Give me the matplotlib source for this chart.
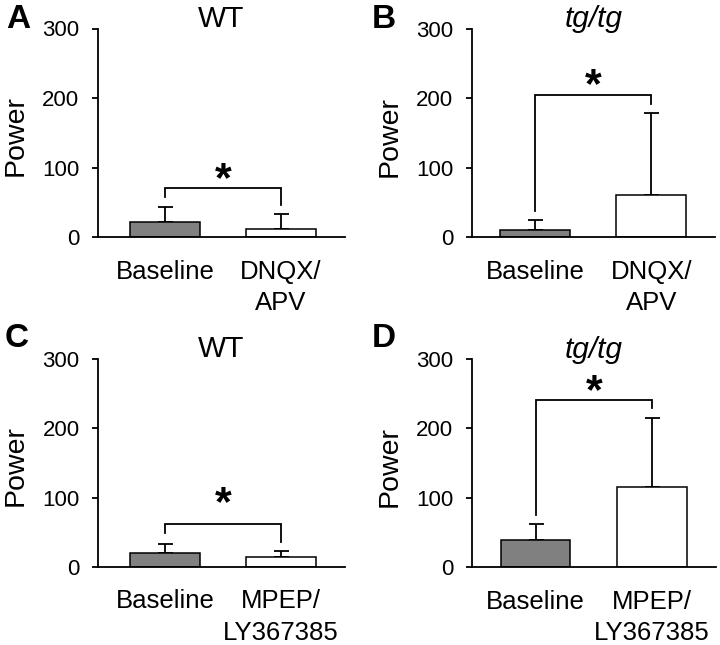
import matplotlib
matplotlib.use("Agg")
import matplotlib.pyplot as plt

plt.rcParams['font.family'] = ['Liberation Sans', 'DejaVu Sans']

# ---- data ----
panel_letters = ["A", "B", "C", "D"]
panel_titles = ["WT", "tg/tg", "WT", "tg/tg"]
title_italic = [False, True, False, True]
xlabels_top = ["Baseline", "DNQX/\nAPV"]
xlabels_bottom = ["Baseline", "MPEP/\nLY367385"]
yticks = [0, 100, 200, 300]

means_A = [22, 12.5]
err_A = [22, 20.5]
means_B = [10.6, 61]
err_B = [14, 117.5]
means_C = [20.8, 14.5]
err_C = [13, 9]
means_D = [39.4, 116]
err_D = [22.6, 99]

bracket_y = [71, 205, 62, 241.5]
bracket_legs = [[58, 46], [38, 192], [48.5, 36], [75, 229]]
star_y = [94, 229, 103, 265]

bar_colors = ["#808080", "#ffffff"]

# ---- layout (pixels) ----
W, H = 720, 645
fig = plt.figure(figsize=(W / 100, H / 100), dpi=100)

rects_px = [  # left, right, top, bottom
    (97.5, 345, 28.5, 237.3),
    (471.5, 715, 28.8, 237.3),
    (97.7, 345, 358.5, 567),
    (471.5, 716, 359, 567.3),
]
xlims = [(-0.58, 1.55), (-0.55, 1.55), (-0.58, 1.55), (-0.55, 1.55)]
letter_pos = [(6, 28), (372, 28), (5, 347), (372, 347)]

all_means = [means_A, means_B, means_C, means_D]
all_errs = [err_A, err_B, err_C, err_D]
all_xlabels = [xlabels_top, xlabels_top, xlabels_bottom, xlabels_bottom]

lw = 1.3
star_fs = 31
for i in range(4):
    l, r, t, b = rects_px[i]
    ax = fig.add_axes([l / W, 1 - b / H, (r - l) / W, (b - t) / H])
    x = [0, 1]
    ax.bar(x, all_means[i], width=0.6, color=bar_colors, edgecolor='black',
           linewidth=1.1, zorder=2)
    ax.errorbar(x, all_means[i], yerr=[[0, 0], all_errs[i]], fmt='none',
                ecolor='black', elinewidth=lw, capsize=5.4, capthick=lw, zorder=1)
    # significance bracket
    by = bracket_y[i]
    legs = bracket_legs[i]
    ax.plot([0, 0, 1, 1], [legs[0], by, by, legs[1]], color='black',
            linewidth=lw, solid_joinstyle='miter', clip_on=False)
    ax.annotate('*', xy=(0.5, star_y[i]), xytext=(0, -0.45 * star_fs),
                textcoords='offset points', ha='center', va='baseline',
                fontsize=star_fs, fontweight='bold', annotation_clip=False)

    ax.set_xlim(*xlims[i])
    ax.set_ylim(0, 300)
    ax.set_yticks(yticks)
    ax.set_yticklabels([str(v) for v in yticks], fontsize=16)
    ax.set_xticks(x)
    ax.set_xticklabels(all_xlabels[i], fontsize=18.5, linespacing=1.4)
    ax.tick_params(axis='x', length=0, pad=16)
    ax.tick_params(axis='y', length=4, width=lw, pad=9, direction='out')
    for s in ['top', 'right']:
        ax.spines[s].set_visible(False)
    for s in ['left', 'bottom']:
        ax.spines[s].set_linewidth(lw)
    ax.set_ylabel('Power', fontsize=20.5)
    ax.yaxis.set_label_coords(-69 / (r - l), 0.485)
    ax.set_title(panel_titles[i], fontsize=21.5, pad=1, y=1.0,
                 fontstyle='italic' if title_italic[i] else 'normal')
    lx, ly = letter_pos[i]
    fig.text(lx / W, 1 - ly / H, panel_letters[i], fontsize=24,
             fontweight='bold', ha='left', va='baseline')

fig.savefig('out.png', dpi=100, facecolor='white')
